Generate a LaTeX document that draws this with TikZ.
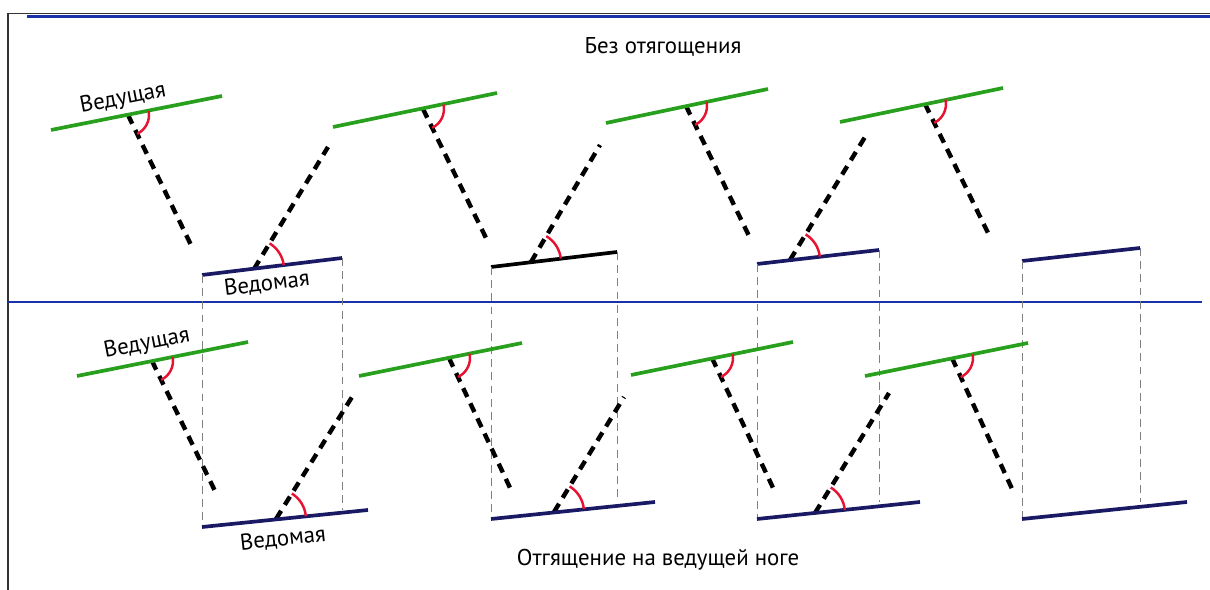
\documentclass[tikz,border=0pt]{standalone}
\usepackage{fontspec}
\setmainfont{PT Sans}
\usetikzlibrary{angles}
\definecolor{leadgreen}{RGB}{40,160,30}
\definecolor{drivenblue}{RGB}{25,25,100}
\definecolor{arcred}{RGB}{230,20,50}
\definecolor{rulerblue}{RGB}{25,50,170}
\tikzset{
  lead/.style={leadgreen, line width=2.1pt},
  driven/.style={drivenblue, line width=2.1pt},
  leg/.style={black, line width=2.5pt, dash pattern=on 5.5pt off 4pt},
  guide/.style={black!50, line width=0.5pt, dash pattern=on 4.5pt off 3pt},
  angmark/.style={draw=arcred, line width=1.4pt, angle radius=#1},
  angmark/.default=0.42cm,
  caption/.style={font=\fontsize{13}{15}\selectfont, inner sep=0pt},
  legname/.style={font=\fontsize{13}{15}\selectfont, inner sep=0pt},
}

\begin{document}
\begin{tikzpicture}[x=0.02cm,y=-0.02cm]
    \useasboundingbox (0,0) rectangle (1210,590);

    \draw[black!80, line width=1pt] (8,590) -- (8,13.5) -- (1210,13.5);
    \draw[rulerblue, line width=1.4pt] (27,16.5) -- (1210,16.5);
    \draw[rulerblue, line width=1.4pt] (8,302) -- (1202,302);

    \node[caption] (toptitle) at (663,47) {Без отягощения};
    \node[caption] (bottitle) at (658,560) {Отгящение на ведущей ноге};

    \begin{scope}
        \coordinate (tg1s) at (51,130);   \coordinate (tg1e) at (222,96);
        \coordinate (tj1) at (128,115);   \coordinate (td1) at (191,245);
        \coordinate (tn1s) at (202,275);  \coordinate (tn1e) at (342,258);
        \coordinate (tk1) at (254,269);   \coordinate (tu1) at (328,147);
        \coordinate (tg2s) at (333,127);  \coordinate (tg2e) at (497,93);
        \coordinate (tj2) at (423,109);   \coordinate (td2) at (487,240);
        \coordinate (tn2s) at (491,267);  \coordinate (tn2e) at (617,252);
        \coordinate (tk2) at (531,262);   \coordinate (tu2) at (600,145);
        \coordinate (tg3s) at (606,123);  \coordinate (tg3e) at (768,89);
        \coordinate (tj3) at (686,106);   \coordinate (td3) at (750,238);
        \coordinate (tn3s) at (757,264);  \coordinate (tn3e) at (879,250);
        \coordinate (tk3) at (790,260);   \coordinate (tu3) at (865,137);
        \coordinate (tg4s) at (840,122);  \coordinate (tg4e) at (1003,88);
        \coordinate (tj4) at (925,104);   \coordinate (td4) at (990,237);
        \coordinate (tn4s) at (1022,261); \coordinate (tn4e) at (1140,248);

        \draw[leg] (tj1) -- (td1);
        \draw[leg] (tk1) -- (tu1);
        \draw[leg] (tj2) -- (td2);
        \draw[leg] (tk2) -- (tu2);
        \draw[leg] (tj3) -- (td3);
        \draw[leg] (tk3) -- (tu3);
        \draw[leg] (tj4) -- (td4);

        \draw[lead] (tg1s) -- (tg1e);
        \draw[lead] (tg2s) -- (tg2e);
        \draw[lead] (tg3s) -- (tg3e);
        \draw[lead] (tg4s) -- (tg4e);
        \draw[driven] (tn1s) -- (tn1e);
        \draw[driven, black] (tn2s) -- (tn2e);
        \draw[driven] (tn3s) -- (tn3e);
        \draw[driven] (tn4s) -- (tn4e);

        \pic[angmark] {angle = td1--tj1--tg1e};
        \pic[angmark] {angle = td2--tj2--tg2e};
        \pic[angmark] {angle = td3--tj3--tg3e};
        \pic[angmark] {angle = td4--tj4--tg4e};
        \pic[angmark=0.6cm] {angle = tn1e--tk1--tu1};
        \pic[angmark=0.6cm] {angle = tn2e--tk2--tu2};
        \pic[angmark=0.6cm] {angle = tn3e--tk3--tu3};

        \node[legname, rotate=11] (toplead) at (123,99) {Ведущая};
        \node[legname, rotate=7] (topdriven) at (267,284) {Ведомая};
    \end{scope}

    \begin{scope}
        \coordinate (bg1s) at (77,376);   \coordinate (bg1e) at (248,342);
        \coordinate (bj1) at (152,361);   \coordinate (bd1) at (215,491);
        \coordinate (bn1s) at (202,527);  \coordinate (bn1e) at (368,510);
        \coordinate (bk1) at (276,519);   \coordinate (bu1) at (352,397);
        \coordinate (bg2s) at (359,376);  \coordinate (bg2e) at (522,343);
        \coordinate (bj2) at (449,358);   \coordinate (bd2) at (512,492);
        \coordinate (bn2s) at (491,519);  \coordinate (bn2e) at (655,502);
        \coordinate (bk2) at (554,512);   \coordinate (bu2) at (624,397);
        \coordinate (bg3s) at (631,375);  \coordinate (bg3e) at (793,342);
        \coordinate (bj3) at (712,358);   \coordinate (bd3) at (775,492);
        \coordinate (bn3s) at (757,519);  \coordinate (bn3e) at (920,502);
        \coordinate (bk3) at (815,513);   \coordinate (bu3) at (889,393);
        \coordinate (bg4s) at (865,376);  \coordinate (bg4e) at (1028,343);
        \coordinate (bj4) at (952,358);   \coordinate (bd4) at (1013,491);
        \coordinate (bn4s) at (1022,519); \coordinate (bn4e) at (1187,502);

        \draw[guide] (tn1s) -- (tn1s |- bn1s);
        \draw[guide] (tn1e) -- (tn1e |- bn1e);
        \draw[guide] (tn2s) -- (tn2s |- bn2s);
        \draw[guide] (tn2e) -- (tn2e |- bn2e);
        \draw[guide] (tn3s) -- (tn3s |- bn3s);
        \draw[guide] (tn3e) -- (tn3e |- bn3e);
        \draw[guide] (tn4s) -- (tn4s |- bn4s);
        \draw[guide] (tn4e) -- (tn4e |- bn4e);

        \draw[leg] (bj1) -- (bd1);
        \draw[leg] (bk1) -- (bu1);
        \draw[leg] (bj2) -- (bd2);
        \draw[leg] (bk2) -- (bu2);
        \draw[leg] (bj3) -- (bd3);
        \draw[leg] (bk3) -- (bu3);
        \draw[leg] (bj4) -- (bd4);

        \draw[lead] (bg1s) -- (bg1e);
        \draw[lead] (bg2s) -- (bg2e);
        \draw[lead] (bg3s) -- (bg3e);
        \draw[lead] (bg4s) -- (bg4e);
        \draw[driven] (bn1s) -- (bn1e);
        \draw[driven] (bn2s) -- (bn2e);
        \draw[driven] (bn3s) -- (bn3e);
        \draw[driven] (bn4s) -- (bn4e);

        \pic[angmark] {angle = bd1--bj1--bg1e};
        \pic[angmark] {angle = bd2--bj2--bg2e};
        \pic[angmark] {angle = bd3--bj3--bg3e};
        \pic[angmark] {angle = bd4--bj4--bg4e};
        \pic[angmark=0.6cm] {angle = bn1e--bk1--bu1};
        \pic[angmark=0.6cm] {angle = bn2e--bk2--bu2};
        \pic[angmark=0.6cm] {angle = bn3e--bk3--bu3};

        \node[legname, rotate=11] (botlead) at (147,344) {Ведущая};
        \node[legname, rotate=6] (botdriven) at (283,539) {Ведомая};
    \end{scope}
\end{tikzpicture}
\end{document}
